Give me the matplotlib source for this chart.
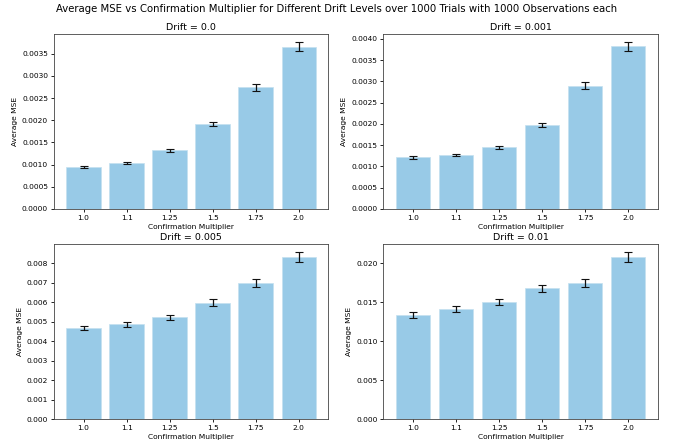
import matplotlib
matplotlib.use("Agg")
import matplotlib.pyplot as plt
from matplotlib.ticker import MultipleLocator

multipliers = ["1.0", "1.1", "1.25", "1.5", "1.75", "2.0"]
drifts = ["0.0", "0.001", "0.005", "0.01"]

mse_d0 = [0.00095, 0.00103, 0.00132, 0.00192, 0.00274, 0.00366]
err_d0 = [0.00002, 0.00002, 0.00003, 0.00005, 0.00007, 0.00010]
mse_d1 = [0.00121, 0.00127, 0.00145, 0.00198, 0.00290, 0.00382]
err_d1 = [0.00003, 0.00003, 0.00004, 0.00005, 0.00008, 0.00010]
mse_d2 = [0.00466, 0.00485, 0.00522, 0.00597, 0.00699, 0.00831]
err_d2 = [0.00012, 0.00013, 0.00014, 0.00016, 0.00020, 0.00024]
mse_d3 = [0.01340, 0.01415, 0.01505, 0.01680, 0.01745, 0.02080]
err_d3 = [0.00040, 0.00040, 0.00040, 0.00045, 0.00050, 0.00060]

means = [mse_d0, mse_d1, mse_d2, mse_d3]
errs = [err_d0, err_d1, err_d2, err_d3]
ytick_steps = [0.0005, 0.0005, 0.001, 0.005]

fig, axes = plt.subplots(2, 2, figsize=(6.74, 4.46), dpi=100)
fig.subplots_adjust(left=0.080, right=0.976, top=0.924, bottom=0.0605,
                    wspace=0.2, hspace=0.2)
for ax, d, m, e, st in zip(axes.flat, drifts, means, errs, ytick_steps):
    ax.bar(multipliers, m, yerr=e, capsize=2.6, color='#98CAE7',
           edgecolor='#C4E0F0', linewidth=0.5,
           error_kw=dict(elinewidth=0.9, capthick=0.8, ecolor='#111111'))
    ax.yaxis.set_major_locator(MultipleLocator(st))
    ax.set_title(f"Drift = {d}", fontsize=6.8, pad=3)
    ax.set_xlabel("Confirmation Multiplier", fontsize=5.4, labelpad=2)
    ax.set_ylabel("Average MSE", fontsize=5.4, labelpad=3)
    ax.tick_params(labelsize=5.4, length=2.2, width=0.6, pad=2)
    for sp in ax.spines.values():
        sp.set_linewidth(0.6)
        sp.set_color('#444444')
fig.suptitle("Average MSE vs Confirmation Multiplier for Different Drift Levels over 1000 Trials with 1000 Observations each",
             fontsize=7.25, y=0.99)
fig.savefig("out.png", dpi=100)
